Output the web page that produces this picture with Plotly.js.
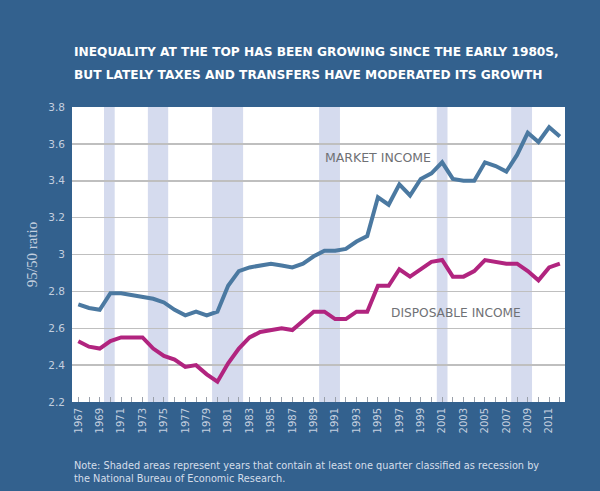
<!DOCTYPE html>
<html><head><meta charset="utf-8">
<script src="https://cdn.plot.ly/plotly-3.0.1.min.js"></script>
<style>html,body{margin:0;padding:0;background:#33618e;}</style>
</head><body><div id="chart" style="width:600px;height:491px;"></div>
<script>
const years = [1967,1968,1969,1970,1971,1972,1973,1974,1975,1976,1977,1978,1979,1980,1981,1982,1983,1984,1985,1986,1987,1988,1989,1990,1991,1992,1993,1994,1995,1996,1997,1998,1999,2000,2001,2002,2003,2004,2005,2006,2007,2008,2009,2010,2011,2012];
const marketIncome = [2.73,2.71,2.70,2.79,2.79,2.78,2.77,2.76,2.74,2.70,2.67,2.69,2.67,2.69,2.83,2.91,2.93,2.94,2.95,2.94,2.93,2.95,2.99,3.02,3.02,3.03,3.07,3.10,3.31,3.27,3.38,3.32,3.41,3.44,3.50,3.41,3.40,3.40,3.50,3.48,3.45,3.54,3.66,3.61,3.69,3.64];
const disposableIncome = [2.53,2.50,2.49,2.53,2.55,2.55,2.55,2.49,2.45,2.43,2.39,2.40,2.35,2.31,2.41,2.49,2.55,2.58,2.59,2.60,2.59,2.64,2.69,2.69,2.65,2.65,2.69,2.69,2.83,2.83,2.92,2.88,2.92,2.96,2.97,2.88,2.88,2.91,2.97,2.96,2.95,2.95,2.91,2.86,2.93,2.95];
const xTickYears = [1967,1969,1971,1973,1975,1977,1979,1981,1983,1985,1987,1989,1991,1993,1995,1997,1999,2001,2003,2005,2007,2009,2011];
const recessionStart = [1969.4,1973.5,1979.5,1989.5,2000.5,2007.45];
const recessionEnd = [1970.4,1975.4,1982.4,1991.45,2001.5,2009.4];
const seriesNames = ['MARKET INCOME','DISPOSABLE INCOME'];
const titleLines = ['INEQUALITY AT THE TOP HAS BEEN GROWING SINCE THE EARLY 1980S,','BUT LATELY TAXES AND TRANSFERS HAVE MODERATED ITS GROWTH'];
const noteText = 'Note: Shaded areas represent years that contain at least one quarter classified as recession by<br>the National Bureau of Economic Research.';

const bg = '#33618e';
const lightText = '#c3cfdf';

const traces = [
  {x: years, y: marketIncome, type: 'scatter', mode: 'lines', name: seriesNames[0],
   line: {color: '#4b79a1', width: 4}},
  {x: years, y: disposableIncome, type: 'scatter', mode: 'lines', name: seriesNames[1],
   line: {color: '#b1247f', width: 4}}
];

const shapes = recessionStart.map((s, i) => ({
  type: 'rect', xref: 'x', yref: 'paper', x0: s, x1: recessionEnd[i], y0: 0, y1: 1,
  fillcolor: '#d5dbee', line: {width: 0}, layer: 'below'
}));

const layout = {
  width: 600, height: 491,
  paper_bgcolor: bg, plot_bgcolor: '#ffffff',
  margin: {l: 72, r: 35, t: 107, b: 89},
  showlegend: false,
  hovermode: false,
  xaxis: {
    range: [1966.41, 2012.48], tickvals: xTickYears, ticktext: xTickYears.map(String),
    tickangle: -90, ticks: 'inside', ticklen: 5, tickcolor: '#9aa0aa', tickwidth: 1,
    minor: {dtick: 1, tick0: 1967, ticks: 'inside', ticklen: 5, tickcolor: '#9aa0aa', showgrid: false},
    showgrid: false, zeroline: false, showline: false, ticklabelstandoff: 3,
    tickfont: {family: 'DejaVu Sans', size: 10, color: lightText}
  },
  yaxis: {
    range: [2.2, 3.8], dtick: 0.2, tick0: 2.2, showgrid: true, gridcolor: '#bfbfbf', gridwidth: 1.5,
    zeroline: false, showline: false, ticks: '', ticklabelstandoff: 6,
    tickfont: {family: 'DejaVu Sans', size: 10.5, color: lightText},
    title: {text: '95/50 ratio', font: {family: 'Liberation Serif', size: 15, color: lightText}, standoff: 7}
  },
  shapes: shapes,
  annotations: [
    {xref: 'paper', yref: 'paper', x: 0, y: 1.186, xanchor: 'left', yanchor: 'middle', showarrow: false,
     text: titleLines[0], font: {family: 'DejaVu Sans', size: 12.2, color: '#ffffff', weight: 'bold'}},
    {xref: 'paper', yref: 'paper', x: 0, y: 1.108, xanchor: 'left', yanchor: 'middle', showarrow: false,
     text: titleLines[1], font: {family: 'DejaVu Sans', size: 12.2, color: '#ffffff', weight: 'bold'}},
    {xref: 'x', yref: 'y', x: 1995.0, y: 3.524, xanchor: 'center', yanchor: 'middle', showarrow: false,
     text: seriesNames[0], font: {family: 'DejaVu Sans', size: 12.5, color: '#6f7175'}},
    {xref: 'x', yref: 'y', x: 2002.25, y: 2.682, xanchor: 'center', yanchor: 'middle', showarrow: false,
     text: seriesNames[1], font: {family: 'DejaVu Sans', size: 12.2, color: '#6f7175'}},
    {xref: 'paper', yref: 'paper', x: 0, y: -0.236, xanchor: 'left', yanchor: 'middle', align: 'left', showarrow: false,
     text: noteText, font: {family: 'DejaVu Sans', size: 9.75, color: '#d5deea'}}
  ]
};

Plotly.newPlot('chart', traces, layout, {displayModeBar: false, staticPlot: true});
</script>
</body></html>
